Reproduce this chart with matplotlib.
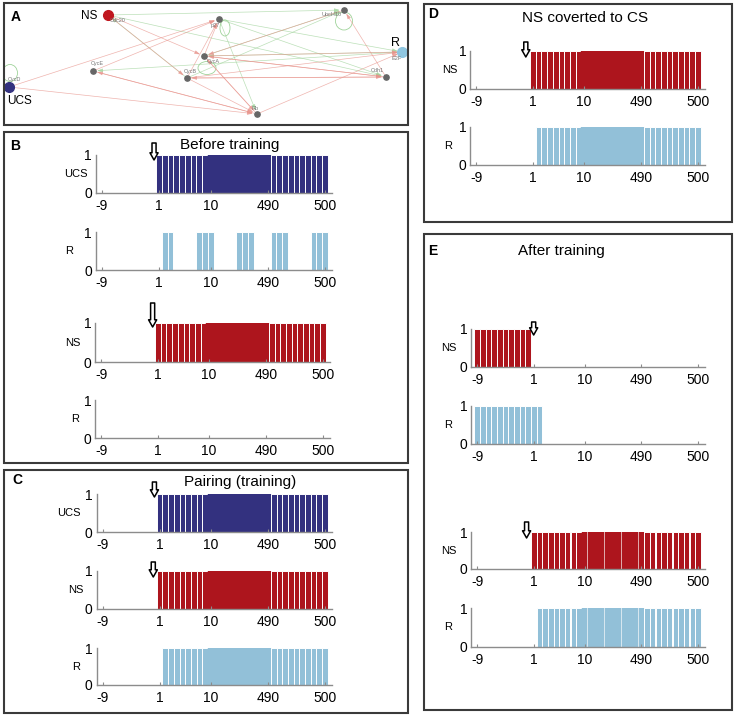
import numpy as np
import matplotlib.pyplot as plt
from matplotlib.patches import Rectangle, Ellipse

plt.rcParams['font.family'] = ['Liberation Sans', 'DejaVu Sans']

W, H = 736, 716
fig = plt.figure(figsize=(W / 100, H / 100), dpi=100)

NAVY = '#33317f'
RED = '#ad151d'
BLUE = '#92c0d8'
AXC = '#8c8c8c'

# bar positions: -9..0 before the stimulus, 1..30 after it
# (11..20 stand for the long stretch between step 10 and step 490)
steps = np.arange(-9, 31)
tick_pos = [-9, 1, 10, 20, 30]
tick_lab = ['-9', '1', '10', '490', '500']

# 0/1 activity, one character per step from -9 to 30
b_ucs = "0000000000111111111111111111111111111111"
b_r1 = "0000000000011000011100001110001110000111"
b_ns = "0000000000111111111111111111111111111111"
b_r2 = "0000000000000000000000000000000000000000"
c_ucs = "0000000000111111111111111111111111111111"
c_ns = "0000000000111111111111111111111111111111"
c_r = "0000000000011111111111111111111111111111"
d_ns = "0000000000111111111111111111111111111111"
d_r = "0000000000011111111111111111111111111111"
e_ns1 = "1111111111000000000000000000000000000000"
e_r1 = "1111111111110000000000000000000000000000"
e_ns2 = "0000000000111111111111111111111111111111"
e_r2 = "0000000000011111111111111111111111111111"

# network of panel A (positions in pixels of the figure)
node_names = ['CycD', 'Cdc20', 'p27', 'UbcH10', 'CycA', 'E2F', 'CycE', 'CycB', 'Cdh1', 'Rb']
node_x = [9, 108, 219, 344, 204, 402, 93, 187, 386, 257]
node_y = [87, 15, 19, 10, 56, 52, 71, 78, 77, 114]
act_edges = [('p27', 'Rb'), ('p27', 'E2F'), ('E2F', 'CycE'), ('E2F', 'CycA'),
             ('CycB', 'Cdc20'), ('Cdc20', 'Cdh1'), ('p27', 'Cdh1'),
             ('CycA', 'UbcH10'), ('Cdc20', 'UbcH10'), ('CycB', 'UbcH10')]
inh_edges = [('CycD', 'Rb'), ('CycE', 'Rb'), ('CycA', 'Rb'), ('CycB', 'Rb'),
             ('Rb', 'E2F'), ('CycA', 'E2F'), ('CycB', 'E2F'), ('Rb', 'CycE'),
             ('Rb', 'CycA'), ('Cdc20', 'CycA'), ('Cdh1', 'CycA'), ('UbcH10', 'CycA'),
             ('CycD', 'p27'), ('CycE', 'p27'), ('CycA', 'p27'), ('CycB', 'p27'),
             ('CycA', 'Cdh1'), ('CycB', 'Cdh1'), ('Cdh1', 'UbcH10'),
             ('Cdc20', 'CycB'), ('Cdh1', 'CycB')]
self_loops = ['CycD', 'p27', 'UbcH10', 'CycA']


def fax(x0, y0, x1, y1):
    return fig.add_axes([x0 / W, 1 - y1 / H, (x1 - x0) / W, (y1 - y0) / H])


# ---- panel frames and letters
for x0, y0, x1, y1 in [(4, 3, 408, 125), (4, 132, 408, 463), (4, 470, 408, 713),
                       (424, 4, 732, 222), (424, 234, 732, 710)]:
    fig.patches.append(Rectangle((x0 / W, 1 - y1 / H), (x1 - x0) / W, (y1 - y0) / H,
                                 transform=fig.transFigure, fill=False,
                                 ec='#3a3a3a', lw=1.5))
for s, x, y in [('A', 16, 17), ('B', 15, 146), ('C', 17, 480), ('D', 433, 14), ('E', 433, 251)]:
    fig.text(x / W, 1 - y / H, s, fontsize=10, fontweight='bold', ha='center', va='center')
for s, x, y in [('Before training', 230, 145), ('Pairing (training)', 240, 482),
                ('NS coverted to CS', 585, 18), ('After training', 561, 251)]:
    fig.text(x / W, 1 - y / H, s, fontsize=11, ha='center', va='center')

# ---- panel A
ax = fax(5, 4, 407, 124)
ax.set_xlim(5, 407)
ax.set_ylim(124, 4)
ax.axis('off')
pos = dict(zip(node_names, zip(node_x, node_y)))
for edges, c in [(act_edges, '#9fd39a'), (inh_edges, '#e8948c')]:
    for a, b in edges:
        ax.annotate('', xy=pos[b], xytext=pos[a],
                    arrowprops=dict(arrowstyle='-|>,head_length=0.45,head_width=0.15',
                                    color=c, lw=0.5, alpha=0.7, shrinkA=2, shrinkB=3,
                                    mutation_scale=7))
loop_shape = {'CycD': (10, 73, 15, 17), 'p27': (225, 28, 10, 16),
              'UbcH10': (344, 21, 17, 18), 'CycA': (207, 68, 18, 13)}
for n in self_loops:
    cx, cy, w, h = loop_shape[n]
    ax.add_patch(Ellipse((cx, cy), w, h, fill=False, ec='#9fd39a', lw=0.6))
for n, x, y in zip(node_names, node_x, node_y):
    if n == 'CycD':
        ax.plot(x, y, 'o', ms=7, color=NAVY, zorder=3)
    elif n == 'Cdc20':
        ax.plot(x, y, 'o', ms=7, color='#c0171f', zorder=3)
    elif n == 'E2F':
        ax.plot(x, y, 'o', ms=7, color='#8fc6e0', zorder=3)
    else:
        ax.plot(x, y, 'o', ms=3.8, color='#666666', zorder=3)
lab_off = {'CycD': (5, -7), 'Cdc20': (10, 6), 'p27': (-4, 7), 'UbcH10': (-12, 5),
           'CycA': (9, 6), 'E2F': (-5, 7), 'CycE': (4, -8), 'CycB': (3, -7),
           'Cdh1': (-9, -7), 'Rb': (-2, -6)}
for n, x, y in zip(node_names, node_x, node_y):
    dx, dy = lab_off[n]
    ax.text(x + dx, y + dy, n, fontsize=4, color='#777777', ha='center', va='center')
ax.text(89, 16, 'NS', fontsize=8.5, ha='center', va='center')
ax.text(20, 101, 'UCS', fontsize=8.5, ha='center', va='center')
ax.text(395, 43, 'R', fontsize=9, ha='center', va='center')

# ---- bar panels
# series, colour, label, label x, px of tick -9, px of tick 500, px of y=1, px of y=0, arrow
specs = [
    (b_ucs, NAVY, 'UCS', 76, 102, 325, 155, 193, (0.1, 160, 143)),
    (b_r1, BLUE, 'R', 69, 102, 325, 232, 270, None),
    (b_ns, RED, 'NS', 73, 101, 323, 323, 362, (0.07, 327, 303)),
    (b_r2, BLUE, 'R', 75, 101, 323, 400, 438, None),
    (c_ucs, NAVY, 'UCS', 69, 102.5, 325, 494, 532, (0.1, 497, 482)),
    (c_ns, RED, 'NS', 76, 102.5, 325, 571, 609, (-0.1, 577, 562)),
    (c_r, BLUE, 'R', 76, 102.5, 325, 648, 685, None),
    (d_ns, RED, 'NS', 450, 476, 698, 51, 89, (-0.25, 57, 42)),
    (d_r, BLUE, 'R', 448, 476, 698, 127, 165, None),
    (e_ns1, RED, 'NS', 449, 477, 698, 329, 367, (1.0, 335, 322)),
    (e_r1, BLUE, 'R', 448, 477, 698, 406, 444, None),
    (e_ns2, RED, 'NS', 449, 477, 698, 532, 569, (-0.25, 538, 522)),
    (e_r2, BLUE, 'R', 448, 477, 698, 608, 647, None),
]

XL, XR = -10, 31.2
for vals, col, lab, lx, a, b, y1, y0, arrow in specs:
    s = (b - a) / 39.0
    left = a - (-9 - XL) * s
    right = b + (XR - 30) * s
    ax = fax(left, y1, right, y0)
    v = np.array([int(ch) for ch in vals])
    on = v > 0
    mid = (steps >= 10) & (steps <= 20)
    # the long middle stretch shows as one solid block when it is on throughout
    merge = mid & bool(v[mid].all())
    ec = [col if m else 'white' for m in merge[on]]
    lw = [0.3 if m else 0.7 for m in merge[on]]
    ax.bar(steps[on], v[on], width=1, color=col, edgecolor=ec, linewidth=lw)
    ax.set_xlim(XL, XR)
    ax.set_ylim(0, 1)
    ax.set_xticks(tick_pos, tick_lab)
    ax.set_yticks([0, 1])
    for sp in ['top', 'right']:
        ax.spines[sp].set_visible(False)
    for sp in ['left', 'bottom']:
        ax.spines[sp].set_color(AXC)
        ax.spines[sp].set_linewidth(1)
    ax.tick_params(axis='x', direction='in', length=2.5, color=AXC, labelsize=10, pad=4)
    ax.tick_params(axis='y', length=0, labelsize=10, pad=3)
    ax.patch.set_alpha(0)
    ax.text((lx - left) / (right - left), 0.5, lab, transform=ax.transAxes,
            fontsize=8, ha='center', va='center')
    if arrow is not None:
        px, tip, top = arrow
        ax.annotate('', xy=(px, (y0 - tip) / (y0 - y1)), xytext=(px, (y0 - top) / (y0 - y1)),
                    annotation_clip=False,
                    arrowprops=dict(arrowstyle='simple,head_length=0.8,head_width=0.9,tail_width=0.45',
                                    fc='white', ec='black', lw=1.1, mutation_scale=6.5,
                                    shrinkA=0, shrinkB=0))

fig.savefig('out.png', dpi=100)
